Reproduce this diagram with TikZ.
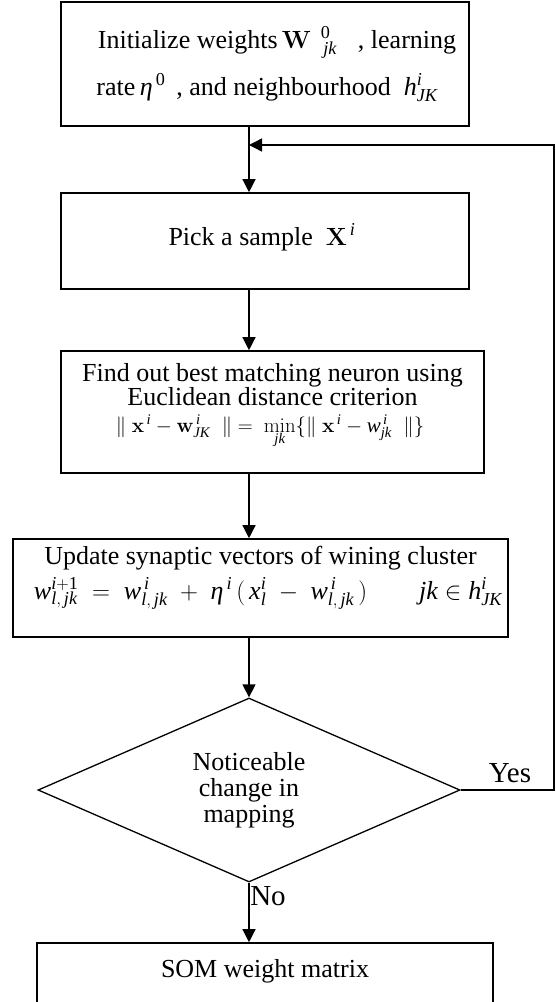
\documentclass[tikz,border=0pt]{standalone}
\usepackage{mathspec}
\setmainfont{Liberation Serif}
\setmathsfont(Digits,Latin,Greek){Liberation Serif}
\usetikzlibrary{shapes.geometric,arrows.meta}
\begin{document}
\begin{tikzpicture}[x=1pt,y=-1pt,
  boxshape/.style={draw,line width=1.6pt,inner sep=0pt},
  txt/.style={font=\fontsize{26}{30}\selectfont,inner sep=0pt,anchor=base},
  small/.style={font=\fontsize{21}{24}\selectfont,inner sep=0pt,anchor=base},
  lbl/.style={font=\fontsize{29}{32}\selectfont,inner sep=0pt,anchor=base},
  arr/.style={line width=1.3pt,-{Triangle[length=13pt,width=13pt]}},
  decision/.style={diamond,draw,line width=1.3pt,inner sep=0pt,aspect=2.29,align=center,font=\fontsize{26}{26}\selectfont}]
\useasboundingbox (0,0) rectangle (555,1002);
\clip (0,0) rectangle (555,1002);
% boxes
\node[boxshape,minimum width=408pt,minimum height=124pt] (b1) at (265,64) {};
\node[boxshape,minimum width=408pt,minimum height=96pt] (b2) at (265,241) {};
\node[boxshape,minimum width=423pt,minimum height=122pt] (b3) at (272.5,412) {};
\node[boxshape,minimum width=495pt,minimum height=98pt] (b4) at (260.5,588) {};
\node[decision,minimum width=422pt,minimum height=184pt] (dia) at (249,790) {Noticeable\\change in\\mapping};
\node[boxshape,minimum width=456pt,minimum height=120pt] (b5) at (265,1003) {};
% texts
\node[txt] (t1a) at (277,48) {Initialize weights\,$\mathbf{W}^{\;\;0}_{\;\;\,jk}$\;\; , learning};
\node[txt] (t1b) at (267,95) {rate\,$\eta^{\,0}$\, , and neighbourhood \ $h^{i}_{JK}$};
\node[txt] (t2) at (262,245) {Pick a sample \ $\mathbf{X}^{\,i}$};
\node[txt] (t3a) at (272.5,381) {Find out best matching neuron using};
\node[txt] (t3b) at (272.5,405) {Euclidean distance criterion};
\node[small] (t3c) at (270,432) {$\|\;\mathbf{x}^{\,i}-\mathbf{w}^{\,i}_{JK}\;\;\| = \ \min\limits_{jk}\{\|\;\mathbf{x}^{\,i}-w^{\,i}_{jk}\;\;\|\}$};
\node[txt] (t4a) at (260.5,564) {Update synaptic vectors of wining cluster};
\node[txt] (t4b) at (268,599) {$w^{i+1}_{l,\,jk} \;=\; w^{\,i}_{l,\,jk} \;+\; \eta^{\,i}\,(\,x^{i}_{l} \;-\; w^{\,i}_{l,\,jk}\,) \qquad jk \in h^{i}_{JK}$};
\node[txt] (t5) at (265,977) {SOM weight matrix};
\node[lbl] (yes) at (510,782) {Yes};
\node[lbl] (no) at (268,905) {No};
% connectors
\coordinate (ax) at (249,0);
\coordinate (loopx) at (554,0);
\coordinate (fb) at (249,145);
\draw[arr] (b1.south -| ax) -- (b2.north -| ax);
\draw[arr] (b2.south -| ax) -- (b3.north -| ax);
\draw[arr] (b3.south -| ax) -- (b4.north -| ax);
\draw[arr] (b4.south -| ax) -- (dia.north);
\draw[arr] (dia.south) -- (b5.north -| dia.south);
\draw[arr] (dia.east) -- (dia.east -| loopx) |- (fb);
\end{tikzpicture}
\end{document}
